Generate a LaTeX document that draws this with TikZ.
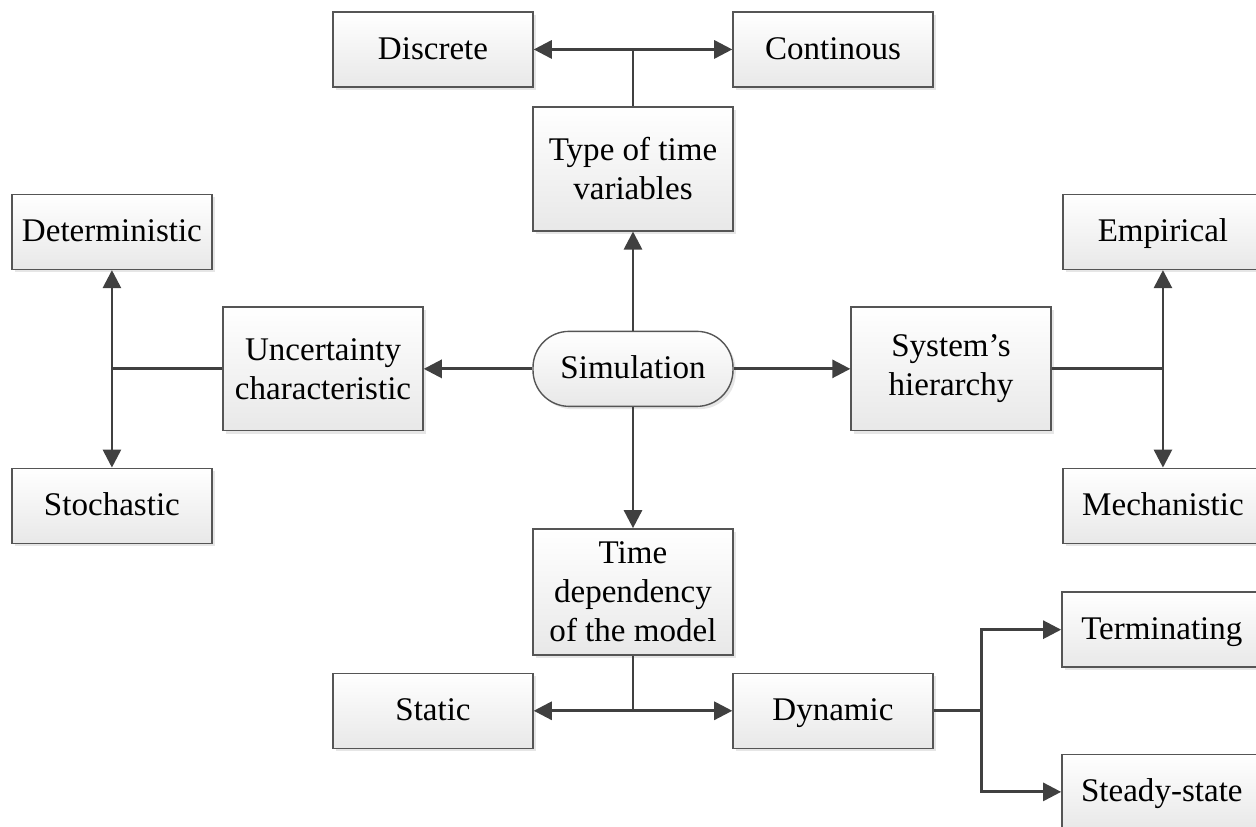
\documentclass[tikz,border=0pt]{standalone}
\usepackage{fontspec}
\setmainfont{Liberation Serif}
\usepackage{xcolor}
\usepackage{tikz}
\usetikzlibrary{arrows.meta, positioning, shadows}
\definecolor{linegray}{RGB}{64, 64, 64}
\definecolor{boxborder}{RGB}{85, 85, 85}
\tikzstyle{boxbase} = [
    rectangle,
    minimum width=72pt,
    minimum height=27pt,
    align=center,
    draw=boxborder,
    line width=0.5pt,
    top color=white,
    bottom color=black!9,
    drop shadow={opacity=0.2, shadow xshift=1pt, shadow yshift=-1pt},
    font=\fontsize{11.9pt}{14pt}\selectfont
]
\tikzstyle{category} = [
    boxbase,
    text height=9.6pt,
    text depth=2.6pt
]
\tikzstyle{tallcat} = [
    boxbase,
    minimum height=44.6pt
]
\tikzstyle{terminal} = [
    category,
    rounded corners=13pt
]
\tikzstyle{arrow} = [
    line width=1pt,
    -{Triangle[length=6.5pt, width=6.5pt]},
    color=linegray
]
\tikzstyle{branch} = [
    line width=1pt,
    color=linegray
]

\begin{document}
\begin{tikzpicture}[node distance=72pt]
        \useasboundingbox (-227.9pt,-164.9pt) rectangle (224.3pt,132.8pt);

        \node[terminal] (sim) {Simulation};
        \node[tallcat, above of=sim] (type) {Type of time\\variables};
        \node[category, left of=type, yshift=43pt] (disc) {Discrete};
        \node[category, right of=type, yshift=43pt] (cont) {Continous};
        \node[tallcat, left of=sim, xshift=-39.6pt] (unc) {Uncertainty\\characteristic};
        \node[category, left of=unc, xshift=-4pt, yshift=49.3pt] (det) {Deterministic};
        \node[category, left of=unc, xshift=-4pt, yshift=-49.3pt] (stoch) {Stochastic};
        \node[tallcat, right of=sim, xshift=42.5pt] (sys) {System’s\\hierarchy};
        \node[category, right of=sys, xshift=4.3pt, yshift=49.3pt] (emp) {Empirical};
        \node[category, right of=sys, xshift=4.3pt, yshift=-49.3pt] (mech) {Mechanistic};
        \node[tallcat, below of=sim, yshift=-8.3pt, minimum height=45.4pt, inner ysep=2pt] (tdep) {Time\\dependency\\of the model};
        \node[category, left of=tdep, yshift=-42.8pt] (stat) {Static};
        \node[category, right of=tdep, yshift=-42.8pt] (dyn) {Dynamic};
        \node[category, right of=dyn, xshift=46.4pt, yshift=29.2pt] (term) {Terminating};
        \node[category, right of=dyn, xshift=46.4pt, yshift=-29.2pt] (steady) {Steady-state};

        % branch points
        \coordinate (typej) at (type.north |- disc.east);
        \coordinate (uncj) at (det.south |- unc.west);
        \coordinate (sysj) at (emp.south |- sys.east);
        \coordinate (tdepj) at (tdep.south |- stat.east);
        \coordinate[right=17.3pt of dyn.east] (dynj);

        \draw[arrow] (sim) -- (type);
        \draw[arrow] (sim) -- (unc);
        \draw[arrow] (sim) -- (sys);
        \draw[arrow] (sim) -- (tdep);

        \draw[branch] (type) -- (typej);
        \draw[arrow] (typej) -- (disc);
        \draw[arrow] (typej) -- (cont);

        \draw[branch] (unc) -- (uncj);
        \draw[arrow] (uncj) -- (det);
        \draw[arrow] (uncj) -- (stoch);

        \draw[branch] (sys) -- (sysj);
        \draw[arrow] (sysj) -- (emp);
        \draw[arrow] (sysj) -- (mech);

        \draw[branch] (tdep) -- (tdepj);
        \draw[arrow] (tdepj) -- (stat);
        \draw[arrow] (tdepj) -- (dyn);

        \draw[branch] (dyn) -- (dynj);
        \draw[arrow] (dynj) |- (term);
        \draw[arrow] (dynj) |- (steady);
    \end{tikzpicture}
\end{document}
